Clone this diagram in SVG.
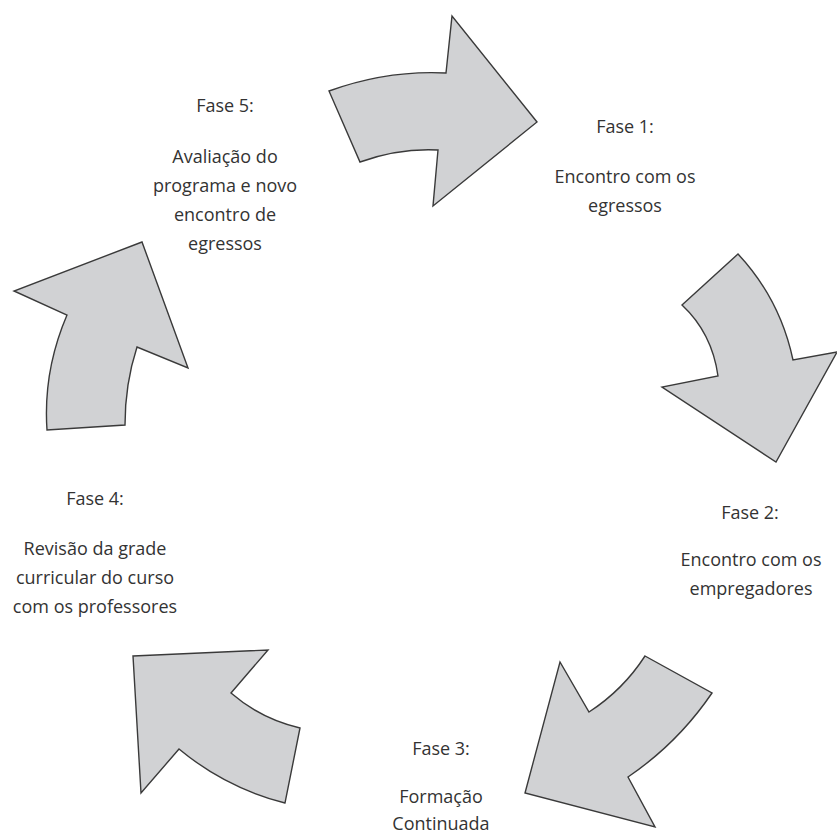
<svg xmlns="http://www.w3.org/2000/svg" width="837" height="834" viewBox="0 0 837 834">
<style>
.arrow{fill:#d1d2d4;stroke:#3a3a3a;stroke-width:1.4;stroke-linejoin:miter}
.t{font-family:"Open Sans","Liberation Sans",sans-serif;font-size:18px;fill:#333;text-anchor:middle}
</style>
<rect width="837" height="834" fill="#ffffff"/>
<g id="connectors">
<path id="arrow-5-1" class="arrow" d="M329,91 Q387,70 446,73 L452,16 L537,122 L433,206 L438,150 Q399,148 360,162 Z"/>
<path id="arrow-1-2" class="arrow" d="M738,254 L682,305 Q712,333 718,376 L662,387 L776,462 L837,352 L793,360 Q780,299 738,254 Z"/>
<path id="arrow-2-3" class="arrow" d="M645,656 L712,693 Q678,743 628,777 L655,827 L525,793 L560,662 L589,712 Q623,690 645,656 Z"/>
<path id="arrow-3-4" class="arrow" d="M133,656 L268,650 L231,693 Q261,719 300,728 L285,803 Q226,788 179,749 L141,793 Z"/>
<path id="arrow-4-5" class="arrow" d="M142,242 L14,291 L67,315 Q43,371 47,430 L125,425 Q125,384 137,347 L188,368 Z"/>
</g>
<g id="fase1">
<text class="t" x="625" y="133">Fase 1:</text>
<text class="t" x="625" y="183">Encontro com os</text>
<text class="t" x="625" y="212">egressos</text>
</g>
<g id="fase2">
<text class="t" x="750" y="519">Fase 2:</text>
<text class="t" x="751" y="566">Encontro com os</text>
<text class="t" x="751" y="595">empregadores</text>
</g>
<g id="fase3">
<text class="t" x="441" y="755">Fase 3:</text>
<text class="t" x="441" y="803">Formação</text>
<text class="t" x="441" y="830">Continuada</text>
</g>
<g id="fase4">
<text class="t" x="95" y="505">Fase 4:</text>
<text class="t" x="95" y="555">Revisão da grade</text>
<text class="t" x="95" y="584">curricular do curso</text>
<text class="t" x="95" y="613">com os professores</text>
</g>
<g id="fase5">
<text class="t" x="225" y="112">Fase 5:</text>
<text class="t" x="225" y="163">Avaliação do</text>
<text class="t" x="225" y="192">programa e novo</text>
<text class="t" x="225" y="221">encontro de</text>
<text class="t" x="225" y="250">egressos</text>
</g>
</svg>
